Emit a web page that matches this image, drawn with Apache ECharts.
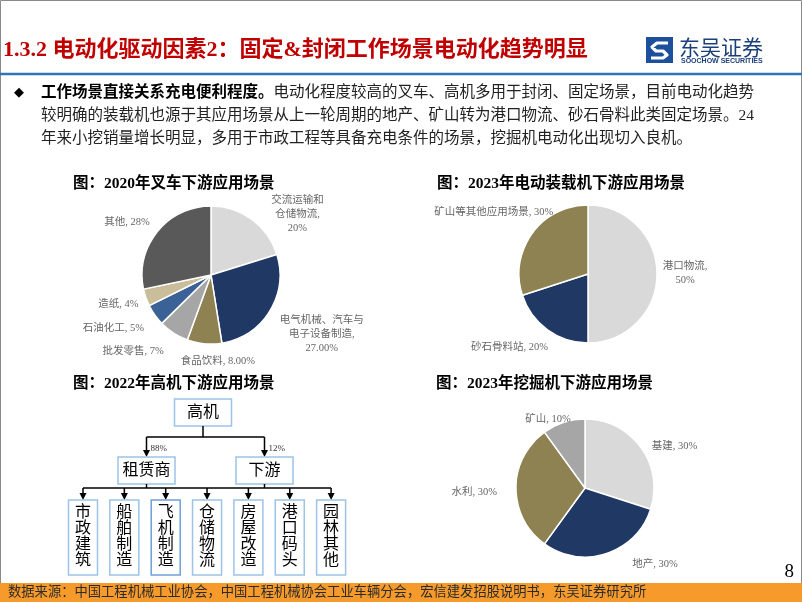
<!DOCTYPE html>
<html><head><meta charset="utf-8">
<script src="https://cdn.jsdelivr.net/npm/echarts@6/dist/echarts.min.js"></script>
<style>html,body{margin:0;padding:0;background:#fff}#c{width:802px;height:602px}</style>
</head><body><div id="c"></div>
<script>
// ---------------- data ----------------
const slideTitle = '1.3.2 电动化驱动因素2：固定&封闭工作场景电动化趋势明显';
const bodyBold = '工作场景直接关系充电便利程度。';
const bodyLines = [
  '电动化程度较高的叉车、高机多用于封闭、固定场景，目前电动化趋势',
  '较明确的装载机也源于其应用场景从上一轮周期的地产、矿山转为港口物流、砂石骨料此类固定场景。24',
  '年来小挖销量增长明显，多用于市政工程等具备充电条件的场景，挖掘机电动化出现切入良机。'
];
const footerText = '数据来源：中国工程机械工业协会，中国工程机械协会工业车辆分会，宏信建发招股说明书，东吴证券研究所';
const pageNumber = '8';

const forkliftTitle = '图：2020年叉车下游应用场景';
const forkliftCats = ['交流运输和\n仓储物流', '电气机械、汽车与\n电子设备制造', '食品饮料', '批发零售', '石油化工', '造纸', '其他'];
const forkliftValues = [20, 27, 8, 7, 5, 4, 28];
const forkliftDecimals = [0, 2, 2, 0, 0, 0, 0];

const loaderTitle = '图：2023年电动装载机下游应用场景';
const loaderCats = ['港口物流', '砂石骨料站', '矿山等其他应用场景'];
const loaderValues = [50, 20, 30];

const excavatorTitle = '图：2023年挖掘机下游应用场景';
const excavatorCats = ['基建', '地产', '水利', '矿山'];
const excavatorValues = [30, 30, 30, 10];

const awpTitle = '图：2022年高机下游应用场景';
const awpRoot = '高机';
const awpMid = ['租赁商', '下游'];
const awpMidShare = ['88%', '12%'];
const awpLeaves = ['市政建筑', '船舶制造', '飞机制造', '仓储物流', '房屋改造', '港口码头', '园林其他'];

// ---------------- styles / layout ----------------
const SERIF = '"Liberation Serif","Noto Sans CJK SC",serif';
const C_LIGHT = '#D9D9D9', C_NAVY = '#203864', C_OLIVE = '#8E8152', C_GRAY = '#A6A6A6',
      C_BLUE = '#3B6296', C_TAN = '#CABE9A', C_DARK = '#595959';
const forkliftColors = [C_LIGHT, C_NAVY, C_OLIVE, C_GRAY, C_BLUE, C_TAN, C_DARK];
const loaderColors = [C_LIGHT, C_NAVY, C_OLIVE];
const excavatorColors = [C_LIGHT, C_NAVY, C_OLIVE, C_GRAY];

// label nudges relative to the library's outside-label position: [dx, dy, align]
const forkliftNudge = [[37, 0, 'center'], [42, 20, 'center'], [19, 7, 'center'], [-1, 13], [-4, 10], [-1, 5], [2, -5]];
const loaderNudge = [[17, -1, 'center'], [9, 13], [31, -18]];
const excavatorNudge = [[1, 2], [19, 5], [-8, 4], [14, 3]];

function pieSeries(cats, vals, colors, center, decimals, nudge, wrapIdx) {
  return {
    type: 'pie', center: center, radius: 69, startAngle: 90, clockwise: true,
    silent: true, animation: false,
    itemStyle: { borderColor: '#fff', borderWidth: 1.5 },
    label: {
      show: true, position: 'outside', color: '#666', fontSize: 10.5, fontFamily: SERIF, lineHeight: 14,
      formatter: function (p) {
        const d = decimals ? decimals[p.dataIndex] : 0;
        const v = vals[p.dataIndex].toFixed(d) + '%';
        const wrap = cats[p.dataIndex].indexOf('\n') >= 0 || (wrapIdx && wrapIdx.indexOf(p.dataIndex) >= 0);
        return wrap ? p.name + ',\n' + v : p.name + ', ' + v;
      }
    },
    labelLine: { show: false, length: 6, length2: 0 },
    labelLayout: function (params) {
      const n = nudge[params.dataIndex];
      const r = { dx: n[0], dy: n[1] };
      if (n[2]) r.align = n[2];
      return r;
    },
    data: cats.map(function (c, i) { return { name: c, value: vals[i], itemStyle: { color: colors[i] } }; })
  };
}

// ---------------- graphic ----------------
const g = [];
function txt(x, y, text, o) {
  g.push({ type: 'text', x: x, y: y, silent: true,
    style: Object.assign({ text: text, fill: '#000', font: '15px ' + SERIF, textAlign: 'left', textVerticalAlign: 'middle' }, o || {}) });
}
function line(x1, y1, x2, y2, color, w) {
  g.push({ type: 'line', silent: true, shape: { x1: x1, y1: y1, x2: x2, y2: y2 }, style: { stroke: color || '#000', lineWidth: w || 1.2 } });
}
function rect(x, y, w, h, style) {
  g.push({ type: 'rect', silent: true, shape: { x: x, y: y, width: w, height: h }, style: style });
}
function arrowDown(x, y1, y2) {
  line(x, y1, x, y2 - 5, '#000', 1.5);
  g.push({ type: 'polygon', silent: true, shape: { points: [[x - 3.5, y2 - 7], [x + 3.5, y2 - 7], [x, y2]] }, style: { fill: '#000' } });
}

// frame
rect(0.5, 0.5, 801, 601, { fill: 'none', stroke: '#8a8a8a', lineWidth: 1 });
// header
txt(3, 50, slideTitle, { fill: '#C00000', font: 'bold 22px ' + SERIF });
line(0, 74, 802, 74, '#2E75B6', 2.5);
// logo
rect(646, 37, 27, 26, { fill: '#1C4F9C' });
g.push({ type: 'polyline', silent: true, shape: { points: [[668, 43], [657, 43], [652, 47], [656, 51], [663, 51], [667, 55], [663, 58], [651, 58]] },
  style: { fill: 'none', stroke: '#fff', lineWidth: 3.2, lineJoin: 'round' } });
txt(679, 47, '东吴证券', { fill: '#1B3F7A', font: '21px "Noto Sans CJK SC"' });
txt(681, 61, 'SOOCHOW SECURITIES', { fill: '#1B3F7A', font: 'bold 7px "Liberation Sans"' });

// body text
txt(14, 93, '◆', { font: '13px "DejaVu Sans"' });
g.push({ type: 'text', x: 41, y: 93, silent: true, style: {
  text: '{b|' + bodyBold + '}{n|' + bodyLines[0] + '}', textVerticalAlign: 'middle',
  rich: { b: { font: 'bold 15.5px ' + SERIF, fill: '#000' }, n: { font: '15.5px ' + SERIF, fill: '#222' } } } });
txt(41, 116, bodyLines[1], { font: '15.5px ' + SERIF, fill: '#222' });
txt(41, 139, bodyLines[2], { font: '15.5px ' + SERIF, fill: '#222' });

// chart titles
txt(73, 184, forkliftTitle, { font: 'bold 15.5px ' + SERIF });
txt(437, 184, loaderTitle, { font: 'bold 15.5px ' + SERIF });
txt(73, 384, awpTitle, { font: 'bold 15.5px ' + SERIF });
txt(436, 384, excavatorTitle, { font: 'bold 15.5px ' + SERIF });

// AWP tree diagram
const BOX = { fill: '#fff', stroke: '#9DC3E6', lineWidth: 1.5 };
const rootCx = 203, midCx = [146.5, 264.5], leafCx0 = 83, leafPitch = 41.35;
rect(rootCx - 28.5, 399, 57, 27, BOX);
txt(rootCx, 413, awpRoot, { textAlign: 'center', font: '16px ' + SERIF });
line(rootCx, 426, rootCx, 437, '#000', 1.5);
line(midCx[0], 437, midCx[1], 437, '#000', 1.5);
awpMid.forEach(function (m, i) {
  arrowDown(midCx[i], 437, 457);
  txt(midCx[i] + 4, 449, awpMidShare[i], { font: '9px ' + SERIF, fill: '#333' });
  rect(midCx[i] - 28.5, 457, 57, 27, BOX);
  txt(midCx[i], 471, m, { textAlign: 'center', font: '16px ' + SERIF });
  line(midCx[i], 484, midCx[i], 488, '#000', 1.5);
});
const leafXs = awpLeaves.map(function (l, i) { return leafCx0 + i * leafPitch; });
line(leafXs[0], 488, leafXs[leafXs.length - 1], 488, '#000', 1.5);
awpLeaves.forEach(function (l, i) {
  const cx = leafXs[i];
  arrowDown(cx, 488, 500);
  rect(cx - 14.5, 500, 29, 75, i === 2 ? { fill: '#fff', stroke: '#6FA0D8', lineWidth: 1.5 } : BOX);
  l.split('').forEach(function (ch, k) { txt(cx, 513 + k * 16, ch, { textAlign: 'center', font: '16px ' + SERIF }); });
});

// footer
rect(0, 583, 802, 19, { fill: '#F79A2C' });
txt(8, 592.5, footerText, { font: '13.3px ' + SERIF, fill: '#2b2b2b' });
txt(794, 572, pageNumber, { textAlign: 'right', font: '19px ' + SERIF });

const chart = echarts.init(document.getElementById('c'), null, { renderer: 'canvas' });
chart.setOption({
  animation: false,
  backgroundColor: '#fff',
  series: [
    pieSeries(forkliftCats, forkliftValues, forkliftColors, [211, 275], forkliftDecimals, forkliftNudge),
    pieSeries(loaderCats, loaderValues, loaderColors, [588, 274], null, loaderNudge, [0]),
    pieSeries(excavatorCats, excavatorValues, excavatorColors, [585, 488], null, excavatorNudge)
  ],
  graphic: { elements: g }
});
</script></body></html>
